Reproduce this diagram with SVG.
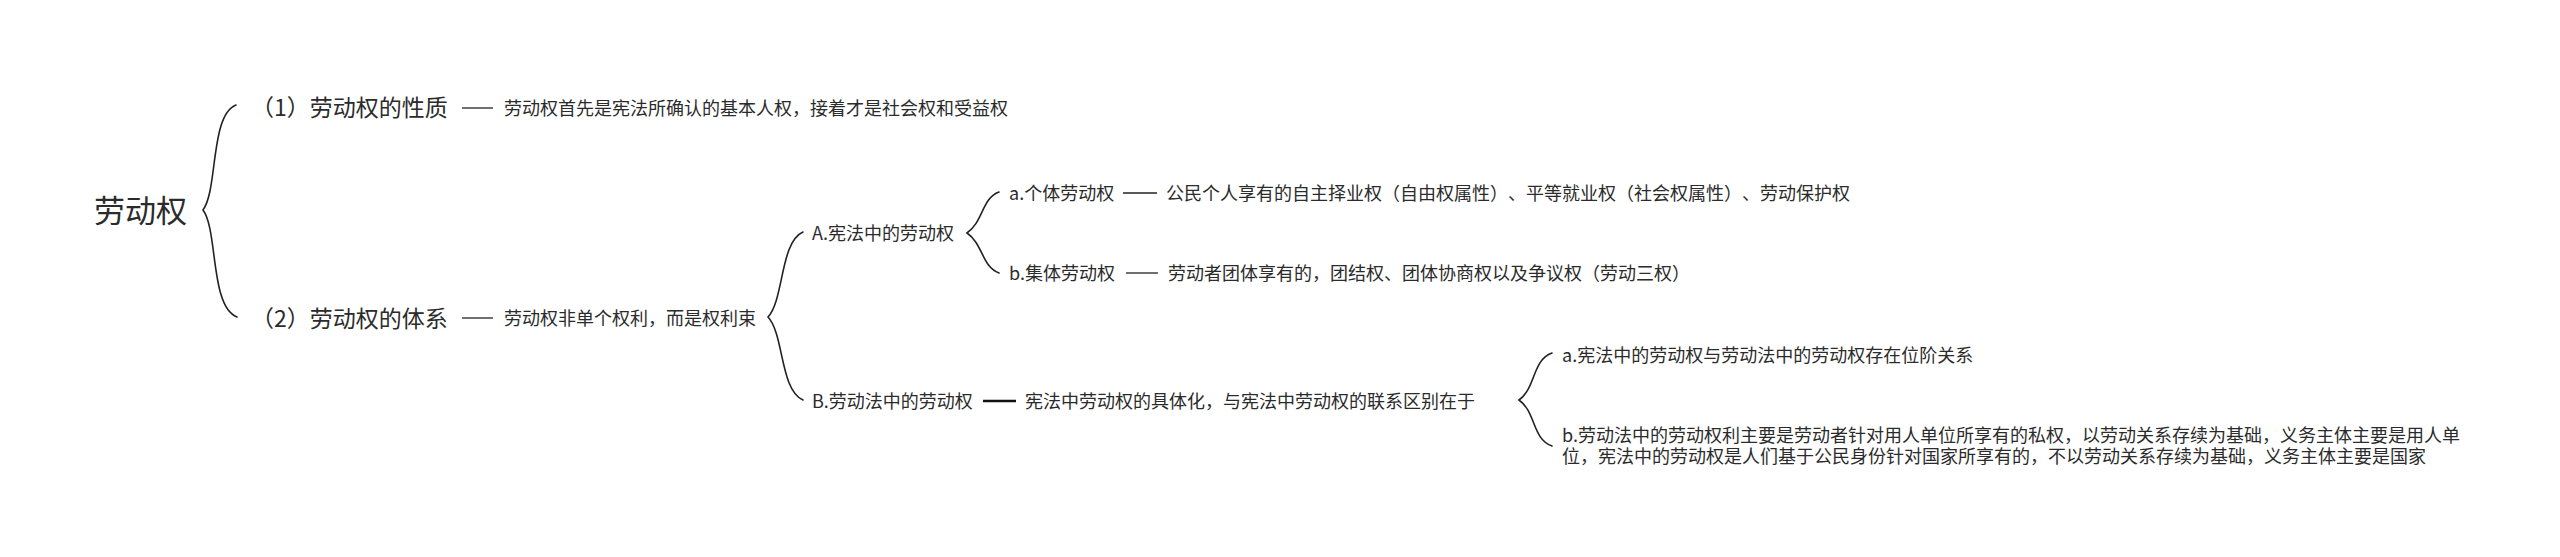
<svg xmlns="http://www.w3.org/2000/svg" width="2560" height="557" viewBox="0 0 2560 557">
<style>
text{font-family:"Noto Sans CJK SC","Noto Sans",sans-serif;fill:#2b2b2b;text-spacing-trim:space-all}
.root{font-size:31px}
.l1{font-size:23px}
.t{font-size:18px}
.brace{fill:none;stroke:#222;stroke-width:1.6;stroke-linecap:round}
.dash{stroke:#222;stroke-width:1.3}
.dashb{stroke:#111;stroke-width:2.4}
</style>
<rect width="2560" height="557" fill="#ffffff"/>
<g id="connectors">
<path class="brace" d="M236,105 C210,115 218,190 203,210 C218,230 210,307 237,317"/>
<line class="dash" x1="462" y1="108" x2="493" y2="108"/>
<line class="dash" x1="462" y1="318" x2="493" y2="318"/>
<path class="brace" d="M803,232 C780,242 784,300 768,317 C784,334 780,390 803,400"/>
<path class="brace" d="M999,192 C982,198 983,222 967,233 C983,244 982,267 999,273"/>
<line class="dash" x1="1123" y1="193" x2="1157" y2="193"/>
<line class="dash" x1="1126" y1="273" x2="1158" y2="273"/>
<line class="dashb" x1="983" y1="401" x2="1016" y2="401"/>
<path class="brace" d="M1552,353 C1532,360 1536,388 1519,400 C1536,412 1532,439 1552,446"/>
</g>
<g id="node-root"><text class="root" x="94" y="222">劳动权</text></g>
<g id="node-1"><text class="l1" x="251" y="116">（1）劳动权的性质</text></g>
<g id="node-1-desc"><text class="t" x="504" y="115">劳动权首先是宪法所确认的基本人权，接着才是社会权和受益权</text></g>
<g id="node-2"><text class="l1" x="251" y="327">（2）劳动权的体系</text></g>
<g id="node-2-desc"><text class="t" x="504" y="325">劳动权非单个权利，而是权利束</text></g>
<g id="node-A"><text class="t" x="812" y="240">A.宪法中的劳动权</text></g>
<g id="node-Aa"><text class="t" x="1009" y="200">a.个体劳动权</text></g>
<g id="node-Aa-desc"><text class="t" x="1166" y="200">公民个人享有的自主择业权（自由权属性）、平等就业权（社会权属性）、劳动保护权</text></g>
<g id="node-Ab"><text class="t" x="1009" y="280">b.集体劳动权</text></g>
<g id="node-Ab-desc"><text class="t" x="1168" y="280">劳动者团体享有的，团结权、团体协商权以及争议权（劳动三权）</text></g>
<g id="node-B"><text class="t" x="812" y="408">B.劳动法中的劳动权</text></g>
<g id="node-B-desc"><text class="t" x="1025" y="408">宪法中劳动权的具体化，与宪法中劳动权的联系区别在于</text></g>
<g id="node-Ba"><text class="t" x="1562" y="362">a.宪法中的劳动权与劳动法中的劳动权存在位阶关系</text></g>
<g id="node-Bb"><text class="t" x="1562" y="442">b.劳动法中的劳动权利主要是劳动者针对用人单位所享有的私权，以劳动关系存续为基础，义务主体主要是用人单<tspan x="1562" y="463">位，宪法中的劳动权是人们基于公民身份针对国家所享有的，不以劳动关系存续为基础，义务主体主要是国家</tspan></text></g>
</svg>
